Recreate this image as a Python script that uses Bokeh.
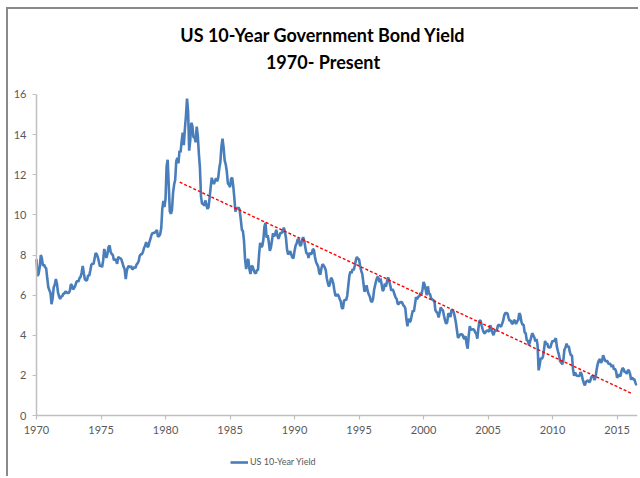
from bokeh.plotting import figure
from bokeh.models import FixedTicker, Legend, LegendItem, Title, Range1d
from bokeh.embed import file_html
from bokeh.resources import INLINE

# Monthly US 10-year Treasury yield (%), Jan 1970 .. Jul 2016
start_year = 1970
yield_pct = [
    # 1970
    7.79, 6.95, 7.07, 7.39, 8.00, 7.84, 7.46, 7.53, 7.39, 7.33, 6.84, 6.39,
    # 1971
    6.24, 6.11, 5.55, 5.83, 6.39, 6.52, 6.80, 6.58, 6.14, 5.93, 5.81, 5.93,
    # 1972
    5.95, 6.08, 6.07, 6.19, 6.13, 6.11, 6.11, 6.21, 6.55, 6.48, 6.28, 6.36,
    # 1973
    6.46, 6.64, 6.71, 6.67, 6.85, 6.90, 7.13, 7.45, 7.09, 6.79, 6.73, 6.74,
    # 1974
    6.99, 6.96, 7.21, 7.51, 7.58, 7.54, 7.81, 8.10, 8.04, 7.90, 7.68, 7.43,
    # 1975
    7.50, 7.39, 7.73, 8.30, 8.06, 7.86, 8.06, 8.40, 8.47, 8.14, 8.05, 8.00,
    # 1976
    7.74, 7.79, 7.73, 7.56, 7.90, 7.86, 7.83, 7.77, 7.59, 7.41, 7.29, 6.80,
    # 1977
    7.21, 7.39, 7.46, 7.37, 7.46, 7.28, 7.33, 7.40, 7.34, 7.52, 7.58, 7.69,
    # 1978
    7.96, 8.03, 8.04, 8.15, 8.35, 8.46, 8.64, 8.41, 8.42, 8.64, 8.81, 9.01,
    # 1979
    9.10, 9.10, 9.12, 9.18, 9.25, 8.91, 8.95, 9.03, 9.33, 10.30, 10.70, 10.39,
    # 1980
    10.80, 12.41, 12.75, 11.47, 10.18, 10.05, 10.25, 11.10, 11.51, 11.75, 12.68, 12.84,
    # 1981
    12.57, 13.19, 13.12, 13.68, 14.10, 13.47, 14.28, 14.94, 15.80, 15.15, 13.20, 13.72,
    # 1982
    14.59, 14.43, 13.86, 13.87, 13.62, 14.40, 13.95, 13.06, 12.34, 10.91, 10.55, 10.54,
    # 1983
    10.46, 10.72, 10.51, 10.30, 10.38, 10.85, 11.38, 11.85, 11.65, 11.54, 11.69, 11.83,
    # 1984
    11.67, 11.84, 12.32, 12.63, 13.41, 13.80, 13.36, 12.72, 12.52, 12.16, 11.57, 11.50,
    # 1985
    11.38, 11.80, 11.86, 11.43, 10.85, 10.16, 10.31, 10.33, 10.37, 10.24, 9.78, 9.26,
    # 1986
    9.19, 8.70, 7.78, 7.30, 7.71, 7.80, 7.30, 7.05, 7.45, 7.43, 7.25, 7.11,
    # 1987
    7.08, 7.25, 7.25, 8.02, 8.61, 8.40, 8.45, 8.76, 9.42, 9.60, 8.86, 8.99,
    # 1988
    8.67, 8.21, 8.37, 8.72, 9.09, 8.92, 9.06, 9.26, 8.98, 8.80, 8.96, 9.11,
    # 1989
    9.09, 9.17, 9.36, 9.18, 8.86, 8.28, 8.02, 8.11, 8.19, 8.01, 7.87, 7.84,
    # 1990
    8.21, 8.47, 8.59, 8.79, 8.76, 8.48, 8.47, 8.75, 8.89, 8.72, 8.39, 8.08,
    # 1991
    8.09, 7.85, 8.11, 8.04, 8.07, 8.28, 8.27, 7.90, 7.65, 7.53, 7.42, 7.09,
    # 1992
    7.03, 7.34, 7.54, 7.48, 7.39, 7.26, 6.84, 6.59, 6.42, 6.59, 6.87, 6.77,
    # 1993
    6.60, 6.26, 5.98, 5.97, 6.04, 5.96, 5.81, 5.68, 5.36, 5.33, 5.72, 5.77,
    # 1994
    5.75, 5.97, 6.48, 6.97, 7.18, 7.10, 7.30, 7.24, 7.46, 7.74, 7.90, 7.81,
    # 1995
    7.78, 7.47, 7.20, 7.06, 6.63, 6.17, 6.28, 6.49, 6.20, 6.04, 5.93, 5.71,
    # 1996
    5.65, 5.81, 6.27, 6.51, 6.74, 6.91, 6.87, 6.64, 6.83, 6.53, 6.20, 6.30,
    # 1997
    6.58, 6.42, 6.69, 6.89, 6.71, 6.49, 6.22, 6.30, 6.21, 6.03, 5.88, 5.81,
    # 1998
    5.54, 5.57, 5.65, 5.64, 5.65, 5.50, 5.46, 5.34, 4.81, 4.45, 4.83, 4.65,
    # 1999
    4.72, 5.00, 5.23, 5.18, 5.54, 5.90, 5.79, 5.94, 5.92, 6.11, 6.03, 6.28,
    # 2000
    6.66, 6.52, 6.26, 5.99, 6.44, 6.10, 6.05, 5.83, 5.80, 5.74, 5.72, 5.24,
    # 2001
    5.16, 5.10, 4.89, 5.14, 5.39, 5.28, 5.24, 4.97, 4.73, 4.57, 4.65, 5.09,
    # 2002
    5.04, 4.91, 5.28, 5.21, 5.16, 4.93, 4.65, 4.26, 3.87, 3.94, 4.05, 4.03,
    # 2003
    4.05, 3.90, 3.81, 3.96, 3.57, 3.33, 3.98, 4.45, 4.27, 4.29, 4.30, 4.27,
    # 2004
    4.15, 4.08, 3.83, 4.35, 4.72, 4.73, 4.50, 4.28, 4.13, 4.10, 4.19, 4.23,
    # 2005
    4.22, 4.17, 4.50, 4.34, 4.14, 4.00, 4.18, 4.26, 4.20, 4.46, 4.54, 4.47,
    # 2006
    4.42, 4.57, 4.72, 4.99, 5.11, 5.11, 5.09, 4.88, 4.72, 4.73, 4.60, 4.56,
    # 2007
    4.76, 4.72, 4.56, 4.69, 4.75, 5.10, 5.00, 4.67, 4.52, 4.53, 4.15, 4.10,
    # 2008
    3.74, 3.74, 3.51, 3.68, 3.88, 4.10, 4.01, 3.89, 3.69, 3.81, 3.53, 2.25,
    # 2009
    2.52, 2.87, 2.82, 2.93, 3.29, 3.72, 3.56, 3.59, 3.40, 3.39, 3.40, 3.59,
    # 2010
    3.73, 3.69, 3.77, 3.85, 3.42, 3.20, 3.01, 2.70, 2.65, 2.54, 2.76, 3.29,
    # 2011
    3.39, 3.58, 3.41, 3.46, 3.17, 3.00, 3.00, 2.30, 1.98, 2.15, 2.01, 1.98,
    # 2012
    1.97, 1.97, 2.17, 2.05, 1.80, 1.62, 1.50, 1.68, 1.72, 1.75, 1.65, 1.72,
    # 2013
    1.91, 1.98, 1.96, 1.76, 1.93, 2.30, 2.58, 2.74, 2.81, 2.62, 2.72, 3.00,
    # 2014
    2.86, 2.71, 2.72, 2.71, 2.56, 2.60, 2.54, 2.42, 2.53, 2.30, 2.33, 2.21,
    # 2015
    1.88, 1.98, 2.04, 1.94, 2.20, 2.36, 2.32, 2.17, 2.17, 2.07, 2.26, 2.24,
    # 2016
    2.09, 1.78, 1.89, 1.81, 1.81, 1.64, 1.50,
]
dates = [start_year + i / 12.0 for i in range(len(yield_pct))]

# Linear trend line endpoints (year, yield)
trend_x = [1981.1, 2016.2]
trend_y = [11.63, 1.08]

x_ticks = [1970, 1975, 1980, 1985, 1990, 1995, 2000, 2005, 2010, 2015]
y_ticks = [0, 2, 4, 6, 8, 10, 12, 14, 16]

title_line1 = "US 10-Year Government Bond Yield"
title_line2 = "1970- Present"
series_name = "US 10-Year Yield"

FONT = "Lato"
AXIS_GRAY = "#BFBFBF"
LABEL_GRAY = "#595959"

p = figure(
    width=632, height=469,
    x_range=Range1d(1967.83, 2016.58), y_range=Range1d(-3.14, 16.947),
    output_backend="svg", toolbar_location=None,
    min_border_left=0, min_border_right=3,
    min_border_top=66, min_border_bottom=0,
)
p.margin = (7, 0, 0, 6)
p.styles = {"border-top": "2px solid #8a8a8a", "border-left": "2px solid #8a8a8a"}
p.outline_line_color = None
p.xgrid.visible = False
p.ygrid.visible = False

line_r = p.line(dates, yield_pct, line_color="#4A7EBB", line_width=2.6)
p.line(trend_x, trend_y, line_color="#FF0000", line_width=1.4, line_dash="3 2")

for ax in (p.xaxis[0], p.yaxis[0]):
    ax.axis_line_color = AXIS_GRAY
    ax.axis_line_width = 1.5
    ax.major_tick_line_color = AXIS_GRAY
    ax.major_tick_line_width = 1.2
    ax.major_tick_in = 0
    ax.major_tick_out = 4
    ax.minor_tick_line_color = None
    ax.major_label_text_font = FONT
    ax.major_label_text_font_size = "11px"
    ax.major_label_text_color = LABEL_GRAY

p.xaxis.ticker = FixedTicker(ticks=x_ticks)
p.yaxis.ticker = FixedTicker(ticks=y_ticks)
p.xaxis.fixed_location = 0
p.yaxis.fixed_location = 1970
p.xaxis.bounds = (1970, 2016.58)
p.yaxis.bounds = (0, 16)
p.xaxis.major_label_standoff = 6
p.yaxis.major_label_standoff = 6

p.title.visible = False
# first added sits closest to the plot
p.add_layout(Title(text=title_line2, align="center", text_font=FONT,
                   text_font_size="18px", text_font_style="bold",
                   text_color="#000000", standoff=6), "above")
p.add_layout(Title(text=title_line1, align="center", text_font=FONT,
                   text_font_size="18px", text_font_style="bold",
                   text_color="#000000", standoff=0), "above")

legend = Legend(items=[LegendItem(label=series_name, renderers=[line_r])],
                location=(222, 11), orientation="horizontal",
                border_line_color=None, background_fill_alpha=0,
                label_text_font=FONT, label_text_font_size="9px",
                label_text_color=LABEL_GRAY, glyph_width=18, glyph_height=10,
                label_standoff=2, padding=0, margin=0, spacing=0)
p.add_layout(legend)

open("out.html", "w").write(file_html(p, INLINE))
